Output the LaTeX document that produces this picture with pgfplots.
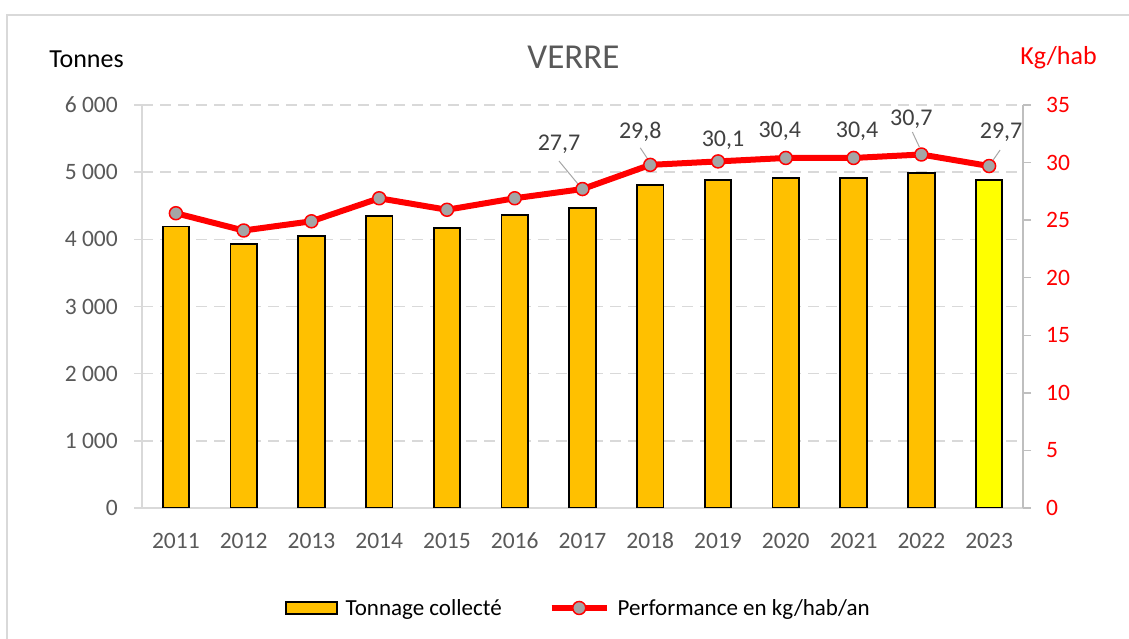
\documentclass[border=0pt]{standalone}
\usepackage{pgfplots}
\pgfplotsset{compat=1.18}
\usepackage{fontspec}
\setmainfont{Carlito}
\definecolor{barorange}{HTML}{FFC000}
\definecolor{baryellow}{HTML}{FFFF00}
\definecolor{gridgrey}{HTML}{D9D9D9}
\definecolor{axgrey}{HTML}{BFBFBF}
\definecolor{ticktext}{HTML}{595959}
\definecolor{labeltext}{HTML}{404040}
\definecolor{markgrey}{HTML}{A5A5A5}
\definecolor{leadergrey}{HTML}{A6A6A6}
\pgfplotsset{
  barleg/.style={legend image code/.code={\draw[##1] (0pt,-6pt) rectangle (51pt,6pt);}},
  lineleg/.style={legend image code/.code={\draw[##1, mark repeat=2, mark phase=2] plot coordinates {(0pt,0pt) (27.5pt,0pt) (55pt,0pt)};}},
}
\pgfplotstableread{
x tonnes
0 4190
1 3935
2 4055
3 4345
4 4170
5 4360
6 4470
7 4810
8 4880
9 4915
10 4910
11 4985
}\bardata
\pgfplotstableread{
x tonnes
12 4885
}\lastbar
\pgfplotstableread{
x kg
0 25.6
1 24.1
2 24.9
3 26.9
4 25.9
5 26.9
6 27.7
7 29.8
8 30.1
9 30.4
10 30.4
11 30.7
12 29.7
}\linedata
\begin{document}
\begin{tikzpicture}[x=1pt,y=1pt]
\useasboundingbox (0,0) rectangle (1129,639);
\draw[gridgrey, line width=1.5pt] (7,-20) -- (7,624) -- (1150,624);
\node[anchor=base, font=\fontsize{35}{42}\selectfont, text=ticktext, inner sep=0pt] at (573.5,570) {VERRE};
\node[anchor=base, font=\fontsize{26}{31}\selectfont, inner sep=0pt] at (86.5,571) {Tonnes};
\node[anchor=base, font=\fontsize{26}{31}\selectfont, text=red, inner sep=0pt] at (1058.5,574) {Kg/hab};

\begin{axis}[
  at={(142pt,131pt)}, anchor=south west,
  scale only axis, width=881pt, height=403pt,
  xmin=-0.5, xmax=12.5, ymin=0, ymax=6000,
  axis x line*=bottom, axis y line*=left,
  axis line style={gridgrey, line width=1.5pt},
  xtick={0,1,...,12},
  xticklabels={2011,2012,2013,2014,2015,2016,2017,2018,2019,2020,2021,2022,2023},
  x tick style={draw=none},
  ytick={0,1000,2000,3000,4000,5000,6000},
  yticklabels={0,1 000,2 000,3 000,4 000,5 000,6 000},
  y tick style={gridgrey, line width=1.5pt},
  tick align=outside, major tick length=8pt,
  ymajorgrids, major grid style={gridgrey, line width=1.5pt, dash pattern=on 11pt off 7pt},
  ticklabel style={font=\fontsize{23.5}{27}\selectfont, text=ticktext, inner sep=0pt},
  xticklabel style={anchor=north, text height=15pt, text depth=0pt, yshift=-17pt},
  yticklabel style={xshift=-16pt},
  /pgf/number format/assume math mode=true,
]
\addplot[ybar, bar width=26.5pt, bar shift=0pt, fill=barorange, draw=black, line width=1.8pt] table[x=x,y=tonnes] {\bardata};
\addplot[ybar, bar width=26.5pt, bar shift=0pt, fill=baryellow, draw=black, line width=1.8pt] table[x=x,y=tonnes] {\lastbar};
\end{axis}

\begin{axis}[
  at={(142pt,131pt)}, anchor=south west,
  scale only axis, width=881pt, height=403pt,
  xmin=-0.5, xmax=12.5, ymin=0, ymax=35,
  axis x line=none, axis y line*=right,
  axis line style={axgrey, line width=1.5pt},
  ytick={0,5,10,15,20,25,30,35},
  y tick style={axgrey, line width=1.5pt},
  tick align=outside, major tick length=8pt,
  yticklabel style={font=\fontsize{23.5}{27}\selectfont, text=red, inner sep=0pt, xshift=15pt},
  /pgf/number format/assume math mode=true,
  clip=false,
  legend columns=2,
  legend style={at={(axis description cs:0.1623,-0.2481)}, anchor=west, draw=none, fill=none,
    inner sep=0pt, font=\fontsize{23}{27}\selectfont,
    nodes={inner sep=0pt},
    /tikz/every odd column/.append style={column sep=8pt},
    /tikz/every even column/.append style={column sep=47pt}},
]
\addlegendimage{fill=barorange, draw=black, line width=1.5pt, barleg}
\addlegendentry{Tonnage collecté}
\addplot[red, line width=6pt, line join=round, mark=*, mark size=6.5pt,
  mark options={fill=markgrey, draw=red, line width=1.5pt}, lineleg]
  table[x=x,y=kg] {\linedata};
\addlegendentry{Performance en kg/hab/an}
\begin{scope}[leadergrey, line width=1pt]
\draw (axis cs:6,27.7) ++(-4.5pt,5pt) -- ++(-19pt,23pt);
\draw (axis cs:7,29.8) ++(-2pt,5pt) -- ++(-8pt,12pt);
\draw (axis cs:11,30.7) ++(-2pt,7.5pt) -- ++(-7pt,15pt);
\draw (axis cs:12,29.7) ++(4pt,6pt) -- ++(7pt,10pt);
\end{scope}
\begin{scope}[every node/.style={font=\fontsize{24}{28}\selectfont, text=labeltext, inner sep=0pt}]
\node at (axis cs:6,27.7) [xshift=-23.5pt, yshift=45pt] {27,7};
\node at (axis cs:7,29.8) [xshift=-10pt, yshift=33pt] {29,8};
\node at (axis cs:8,30.1) [xshift=5pt, yshift=21.5pt] {30,1};
\node at (axis cs:9,30.4) [xshift=-6pt, yshift=27pt] {30,4};
\node at (axis cs:10,30.4) [xshift=3.5pt, yshift=27pt] {30,4};
\node at (axis cs:11,30.7) [xshift=-10pt, yshift=35.5pt] {30,7};
\node at (axis cs:12,29.7) [xshift=12pt, yshift=34pt] {29,7};
\end{scope}
\end{axis}
\end{tikzpicture}
\end{document}
